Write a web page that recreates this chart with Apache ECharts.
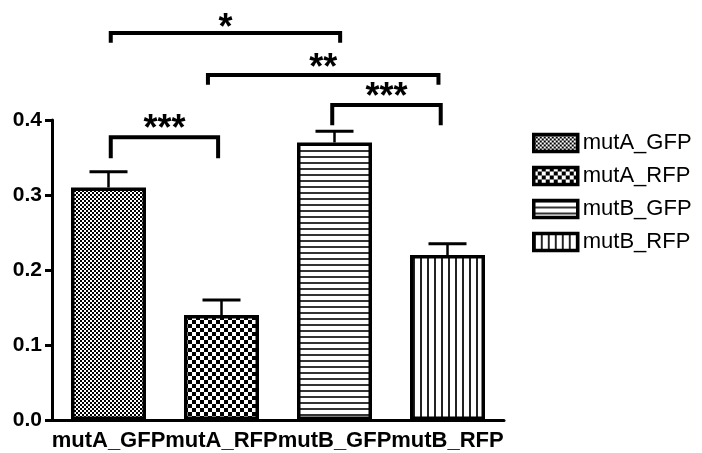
<!DOCTYPE html>
<html>
<head>
<meta charset="utf-8">
<script src="https://cdn.jsdelivr.net/npm/echarts@6/dist/echarts.min.js"></script>
<style>html,body{margin:0;padding:0;background:#fff}#c{width:702px;height:453px}</style>
</head>
<body>
<div id="c"></div>
<script>
var categories = ['mutA_GFP', 'mutA_RFP', 'mutB_GFP', 'mutB_RFP'];
var means = [0.31, 0.14, 0.37, 0.22];
var errors = [0.021, 0.02, 0.015, 0.015];
var yTicks = [0, 0.1, 0.2, 0.3, 0.4];
// significance brackets: [fromCategoryPos, toCategoryPos, topValue, legValue, label]
var brackets = [
  [0.02, 2.05, 0.516, 0.503, '*'],
  [0.88, 2.92, 0.460, 0.447, '**'],
  [1.98, 2.94, 0.420, 0.393, '***'],
  [0.02, 0.97, 0.377, 0.349, '***']
];

function makePattern(kind) {
  var c = document.createElement('canvas');
  var ctx = c.getContext('2d');
  var s;
  if (kind === 'fine') {
    s = 4; c.width = s; c.height = s;
    ctx.fillStyle = '#fff'; ctx.fillRect(0, 0, s, s);
    ctx.fillStyle = '#000'; ctx.fillRect(0, 0, 2, 2); ctx.fillRect(2, 2, 2, 2);
  } else if (kind === 'big') {
    s = 8; c.width = s; c.height = s;
    ctx.fillStyle = '#fff'; ctx.fillRect(0, 0, s, s);
    ctx.fillStyle = '#000'; ctx.fillRect(0, 0, 4, 4); ctx.fillRect(4, 4, 4, 4);
  } else if (kind === 'h') {
    c.width = 6; c.height = 6;
    ctx.fillStyle = '#fff'; ctx.fillRect(0, 0, 6, 6);
    ctx.fillStyle = '#333'; ctx.fillRect(0, 0, 6, 2);
  } else {
    c.width = 7; c.height = 7;
    ctx.fillStyle = '#fff'; ctx.fillRect(0, 0, 7, 7);
    ctx.fillStyle = '#222'; ctx.fillRect(0, 0, 2, 7);
  }
  return { image: c, repeat: 'repeat' };
}
var patterns = [makePattern('fine'), makePattern('big'), makePattern('h'), makePattern('v')];

var FONT = 'Liberation Sans, Arial, sans-serif';
var STAR_SIZE = 36;

var barSeries = categories.map(function (name, i) {
  return {
    name: name,
    type: 'bar',
    barWidth: 75,
    barGap: '-100%',
    data: means.map(function (v, j) { return j === i ? v : '-'; }),
    itemStyle: { color: patterns[i], borderColor: '#000', borderWidth: 3.5 },
    z: 2
  };
});

var errSeries = {
  type: 'custom',
  name: 'err',
  z: 1,
  clip: false,
  data: means.map(function (v, i) { return [i, v, errors[i]]; }),
  encode: { x: 0, y: 1 },
  renderItem: function (params, api) {
    var i = api.value(0), v = api.value(1), e = api.value(2);
    var p0 = api.coord([i, v]);
    var p1 = api.coord([i, v + e]);
    return {
      type: 'group',
      children: [
        { type: 'line', shape: { x1: p0[0], y1: p0[1], x2: p1[0], y2: p1[1] }, style: { stroke: '#000', lineWidth: 2.5 } },
        { type: 'line', shape: { x1: p1[0] - 19, y1: p1[1], x2: p1[0] + 19, y2: p1[1] }, style: { stroke: '#000', lineWidth: 3 } }
      ]
    };
  }
};

var brSeries = {
  type: 'custom',
  name: 'sig',
  z: 3,
  clip: false,
  silent: true,
  data: brackets.map(function (b, k) { return [k, b[2]]; }),
  encode: { x: 0, y: 1 },
  renderItem: function (params, api) {
    var b = brackets[params.dataIndex];
    var c0 = api.coord([0, b[2]]);
    var c1 = api.coord([1, b[2]]);
    var band = c1[0] - c0[0];
    var xa = c0[0] + b[0] * band;
    var xc = c0[0] + b[1] * band;
    var yt = c0[1];
    var yl = api.coord([0, b[3]])[1];
    var lift = b[4].length === 1 ? 9 : (b[4].length === 2 ? 11 : 12);
    return {
      type: 'group',
      children: [
        { type: 'polyline', shape: { points: [[xa, yl], [xa, yt], [xc, yt], [xc, yl]] },
          style: { stroke: '#000', lineWidth: 4, fill: null, lineJoin: 'miter', lineCap: 'butt' } },
        { type: 'text', x: (xa + xc) / 2, y: yt - lift + 0.13 * STAR_SIZE,
          style: { text: b[4], fill: '#000', font: 'bold ' + STAR_SIZE + 'px ' + FONT, align: 'center', verticalAlign: 'middle' } }
      ]
    };
  }
};

var chart = echarts.init(document.getElementById('c'));
chart.setOption({
  animation: false,
  backgroundColor: '#fff',
  grid: { left: 52, right: 198, top: 120, bottom: 33, containLabel: false },
  legend: {
    data: categories,
    orient: 'vertical',
    left: 532,
    top: 132,
    padding: 0,
    icon: 'rect',
    itemWidth: 44,
    itemHeight: 17,
    itemGap: 11,
    itemStyle: { borderColor: '#000', borderWidth: 3.5 },
    textStyle: { fontFamily: FONT, fontSize: 22, color: '#000', lineHeight: 22 },
    selectedMode: false
  },
  xAxis: {
    type: 'category',
    data: categories,
    axisLine: { lineStyle: { color: '#000', width: 3 } },
    axisTick: { alignWithLabel: true, length: 8, lineStyle: { color: '#000', width: 3 } },
    axisLabel: { interval: 0, color: '#000', fontFamily: FONT, fontWeight: 'bold', fontSize: 22, margin: 10 },
    splitLine: { show: false }
  },
  yAxis: {
    type: 'value',
    min: yTicks[0],
    max: yTicks[yTicks.length - 1],
    interval: 0.1,
    axisLine: { show: true, lineStyle: { color: '#000', width: 3 } },
    axisTick: { show: true, length: 7, lineStyle: { color: '#000', width: 3 } },
    axisLabel: { color: '#000', fontFamily: FONT, fontWeight: 'bold', fontSize: 21, margin: 10,
      formatter: function (v) { return v.toFixed(1); } },
    splitLine: { show: false }
  },
  series: barSeries.concat([errSeries, brSeries])
});
</script>
</body>
</html>
